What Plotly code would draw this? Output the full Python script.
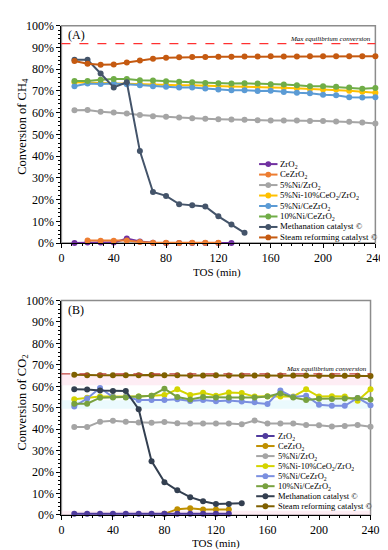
import plotly.graph_objects as go

W, H = 388, 550
FONT = "Liberation Serif, Times New Roman, serif"

TOS = [10, 20, 30, 40, 50, 60, 70, 80, 90, 100, 110, 120, 130, 140, 150, 160,
       170, 180, 190, 200, 210, 220, 230, 240]
X_TICKS = [0, 40, 80, 120, 160, 200, 240]

NAMES = ["ZrO<sub>2</sub>", "CeZrO<sub>2</sub>", "5%Ni/ZrO<sub>2</sub>",
         "5%Ni-10%CeO<sub>2</sub>/ZrO<sub>2</sub>", "5%Ni/CeZrO<sub>2</sub>",
         "10%Ni/CeZrO<sub>2</sub>", "Methanation catalyst ©", "Steam reforming catalyst ©"]

# ---------------- Panel A: CH4 conversion (%) ----------------
A_ZrO2_t = TOS[:13]
A_ZrO2 = [0.0, 0.2, 0.2, 0.2, 2.1, 0.7, 0.1, 0.0, 0.0, 0.0, 0.0, 0.0, 0.0]
A_CeZrO2_t = TOS[1:12]
A_CeZrO2 = [1.2, 1.1, 1.0, 1.2, 0.5, 0.1, 0.1, 0.0, 0.1, 0.1, 0.1]
A_Ni5Zr = [61.1, 61.2, 60.4, 60.1, 59.6, 58.9, 58.4, 58.1, 57.8, 57.4, 57.2, 57.0,
           56.8, 56.7, 56.5, 56.4, 56.4, 56.4, 56.2, 56.2, 55.9, 55.8, 55.5, 55.0]
A_Ni5Ce10Zr = [74.0, 73.8, 73.6, 73.5, 73.5, 73.2, 73.0, 72.8, 72.6, 72.6, 72.3, 72.2,
               72.0, 71.9, 71.9, 71.6, 71.5, 71.2, 70.9, 70.7, 70.6, 70.1, 69.6, 69.1]
A_Ni5CeZr = [72.1, 73.4, 73.2, 73.4, 73.1, 72.6, 72.1, 71.9, 71.6, 71.6, 71.1, 70.6,
             70.3, 70.3, 70.0, 70.1, 69.5, 69.2, 68.9, 68.2, 68.0, 67.1, 67.0, 67.1]
A_Ni10CeZr = [74.6, 74.6, 75.1, 75.5, 75.5, 74.9, 74.8, 74.4, 74.2, 74.0, 73.7, 73.5,
              73.4, 73.5, 73.4, 73.1, 73.0, 72.6, 72.2, 72.2, 71.9, 71.6, 71.0, 71.3]
A_Meth_t = TOS[:14]
A_Meth = [84.3, 84.3, 78.0, 71.6, 74.0, 42.3, 23.5, 21.7, 17.9, 17.4, 16.8, 12.3, 8.5, 4.7]
A_Steam = [83.8, 82.5, 82.0, 82.1, 83.1, 84.0, 84.8, 85.3, 85.5, 85.6, 85.6, 85.7,
           85.7, 85.8, 85.8, 85.9, 85.8, 85.8, 85.9, 85.9, 85.9, 85.9, 85.9, 86.0]
A_MAX_EQ = 91.8

# ---------------- Panel B: CO2 conversion (%) ----------------
B_ZrO2_t = TOS[:13]
B_ZrO2 = [0.6, 0.6, 0.6, 0.6, 0.6, 0.6, 0.6, 0.6, 0.6, 0.6, 0.6, 0.6, 0.6]
B_CeZrO2_t = TOS[7:13]
B_CeZrO2 = [0.5, 2.7, 3.1, 2.5, 2.5, 2.5]
B_Ni5Zr = [41.0, 41.0, 43.5, 43.9, 43.5, 43.1, 43.0, 43.3, 42.8, 42.7, 42.7, 42.7,
           42.7, 42.3, 44.0, 42.6, 42.6, 42.7, 41.9, 41.8, 41.2, 41.5, 42.0, 41.1]
B_Ni5Ce10Zr = [54.0, 54.7, 55.2, 55.2, 55.2, 55.2, 55.6, 55.9, 58.6, 55.9, 57.0, 55.6,
               57.1, 56.9, 55.2, 55.4, 55.2, 55.3, 58.6, 55.2, 55.4, 55.2, 53.3, 58.6]
B_Ni5CeZr = [50.6, 54.3, 59.2, 55.0, 55.0, 53.6, 53.6, 53.6, 54.0, 53.2, 53.6, 53.0,
             53.4, 52.9, 52.6, 51.8, 58.0, 55.0, 55.6, 51.4, 50.9, 50.9, 54.6, 51.2]
B_Ni10CeZr = [51.9, 51.9, 54.7, 54.8, 54.8, 55.2, 55.6, 58.9, 55.0, 53.9, 55.0, 54.8,
              54.8, 54.8, 54.8, 55.2, 56.7, 54.8, 53.6, 54.2, 54.1, 54.3, 54.5, 53.8]
B_Meth_t = TOS[:14]
B_Meth = [58.6, 58.5, 58.0, 57.8, 57.8, 49.3, 25.1, 15.3, 11.5, 8.3, 6.4, 5.1, 5.1, 5.4]
B_Steam = [65.4, 65.1, 65.1, 65.1, 65.2, 65.2, 65.3, 65.1, 65.2, 65.0, 65.0, 65.1,
           65.0, 65.0, 65.0, 65.0, 65.0, 65.0, 65.0, 64.9, 64.9, 64.9, 64.9, 64.8]
B_MAX_EQ = 65.8

A_COLORS = ["#7030A0", "#ED7D31", "#A5A5A5", "#FFC000", "#5B9BD5", "#70AD47",
            "#44546A", "#C55A11"]
B_COLORS = ["#4F3A9E", "#BF9000", "#A5A5A5", "#D4D400", "#7B8FE0", "#78A13F",
            "#333F50", "#7F6000"]

A_SERIES = [(A_ZrO2_t, A_ZrO2), (A_CeZrO2_t, A_CeZrO2), (TOS, A_Ni5Zr), (TOS, A_Ni5Ce10Zr),
            (TOS, A_Ni5CeZr), (TOS, A_Ni10CeZr), (A_Meth_t, A_Meth), (TOS, A_Steam)]
B_SERIES = [(B_ZrO2_t, B_ZrO2), (B_CeZrO2_t, B_CeZrO2), (TOS, B_Ni5Zr), (TOS, B_Ni5Ce10Zr),
            (TOS, B_Ni5CeZr), (TOS, B_Ni10CeZr), (B_Meth_t, B_Meth), (TOS, B_Steam)]
B_ORDER = [1, 0, 2, 3, 4, 5, 6, 7]

fig = go.Figure()

for i, (t, v) in enumerate(A_SERIES):
    fig.add_trace(go.Scatter(x=t, y=v, mode="lines+markers", name=NAMES[i],
                             line=dict(color=A_COLORS[i], width=2),
                             marker=dict(color=A_COLORS[i], size=6),
                             cliponaxis=False, showlegend=False, xaxis="x", yaxis="y"))
for i in B_ORDER:
    t, v = B_SERIES[i]
    fig.add_trace(go.Scatter(x=t, y=v, mode="lines+markers", name=NAMES[i],
                             line=dict(color=B_COLORS[i], width=2),
                             marker=dict(color=B_COLORS[i], size=6),
                             cliponaxis=False, showlegend=False, xaxis="x2", yaxis="y2"))


def xa(domain, anchor):
    return dict(domain=domain, anchor=anchor, range=[0, 240], tickmode="array",
                tickvals=X_TICKS, ticktext=[str(v) for v in X_TICKS],
                ticks="outside", ticklen=4, tickcolor="black", tickwidth=1,
                minor=dict(dtick=8, ticks="outside", ticklen=2, tickcolor="black"),
                showline=True, linecolor="black", linewidth=1,
                showgrid=False, zeroline=False,
                tickfont=dict(family=FONT, size=12, color="black"))


def ya(domain, anchor):
    return dict(domain=domain, anchor=anchor, range=[0, 100], dtick=10, tick0=0,
                ticksuffix="%", ticks="outside", ticklen=4, tickcolor="black",
                minor=dict(dtick=2, ticks="outside", ticklen=2, tickcolor="black"),
                showline=True, linecolor="black", linewidth=1,
                showgrid=False, zeroline=False,
                tickfont=dict(family=FONT, size=12, color="black"))


shapes = []
annotations = []

for xr, yr in [("x domain", "y domain"), ("x2 domain", "y2 domain")]:
    shapes.append(dict(type="rect", xref=xr, yref=yr, x0=0, x1=1, y0=0, y1=1,
                       line=dict(color="#8C8C8C", width=1.5), layer="below"))

# faint shaded bands in panel B
for y0, y1, c in [(60.5, 65.3, "rgba(252,215,230,0.45)"),
                  (49.5, 53.5, "rgba(210,245,250,0.45)"),
                  (0, 2.0, "rgba(252,215,230,0.45)")]:
    shapes.append(dict(type="rect", xref="x2", yref="y2", x0=0, x1=240, y0=y0, y1=y1,
                       line=dict(width=0), fillcolor=c, layer="below"))

shapes.append(dict(type="line", xref="x domain", yref="y", x0=0, x1=1, y0=A_MAX_EQ, y1=A_MAX_EQ,
                   line=dict(color="#FF3030", width=1.2, dash="dash")))
shapes.append(dict(type="line", xref="x2 domain", yref="y2", x0=0, x1=1, y0=B_MAX_EQ, y1=B_MAX_EQ,
                   line=dict(color="#C0403D", width=1.2, dash="dash")))


def P(px, py):
    return px / W, 1 - py / H


def text(px, py, s, size, xanchor="center", yanchor="middle", angle=0, italic=False, h=None):
    x, y = P(px, py)
    a = dict(x=x, y=y, xref="paper", yref="paper", text=s, showarrow=False,
             xanchor=xanchor, yanchor=yanchor, textangle=angle,
             font=dict(family=FONT, size=size, color="black",
                       style="italic" if italic else "normal"))
    if h:
        a["height"] = h
    annotations.append(a)


text(57, 21, "(A)", 12, xanchor="left")
text(57, 303, "(B)", 12, xanchor="left")
text(374, 25, "Max equilibrium conversion", 7, xanchor="right", italic=True)
text(369, 363, "Max equilibrium conversion", 7, xanchor="right", italic=True)
text(213, 264, "TOS (min)", 11, h=12)
text(212, 542, "TOS (min)", 11, h=12)
text(12, 114, "Conversion of CH<sub>4</sub>", 12.5, angle=-90)
text(12, 398, "Conversion of CO<sub>2</sub>", 12.5, angle=-90)


def legend(colors, lx0, lx1, tx, y_first, step, size):
    for i, name in enumerate(NAMES):
        py = y_first + i * step
        x0, y = P(lx0, py)
        x1, _ = P(lx1, py)
        shapes.append(dict(type="line", xref="paper", yref="paper", x0=x0, x1=x1, y0=y, y1=y,
                           line=dict(color=colors[i], width=2)))
        cx = (lx0 + lx1) / 2
        a0, b0 = P(cx - 3, py + 3)
        a1, b1 = P(cx + 3, py - 3)
        shapes.append(dict(type="circle", xref="paper", yref="paper", x0=a0, x1=a1, y0=b0, y1=b1,
                           fillcolor=colors[i], line=dict(color=colors[i], width=0)))
        text(tx, py, name, size, xanchor="left", h=step)


legend(A_COLORS, 256, 275, 276, 153, 10.75, 8.8)
legend(B_COLORS, 253, 272, 273, 432, 10.3, 8.5)

fig.update_layout(
    width=W, height=H, margin=dict(l=0, r=0, t=0, b=0),
    paper_bgcolor="white", plot_bgcolor="white",
    xaxis=xa([52 / W, 376 / W], "y"),
    yaxis=ya([1 - 234 / H, 1 - 11 / H], "x"),
    xaxis2=xa([52 / W, 371 / W], "y2"),
    yaxis2=ya([1 - 513 / H, 1 - 293 / H], "x2"),
    shapes=shapes, annotations=annotations, showlegend=False,
)

fig.write_html("out.html")
